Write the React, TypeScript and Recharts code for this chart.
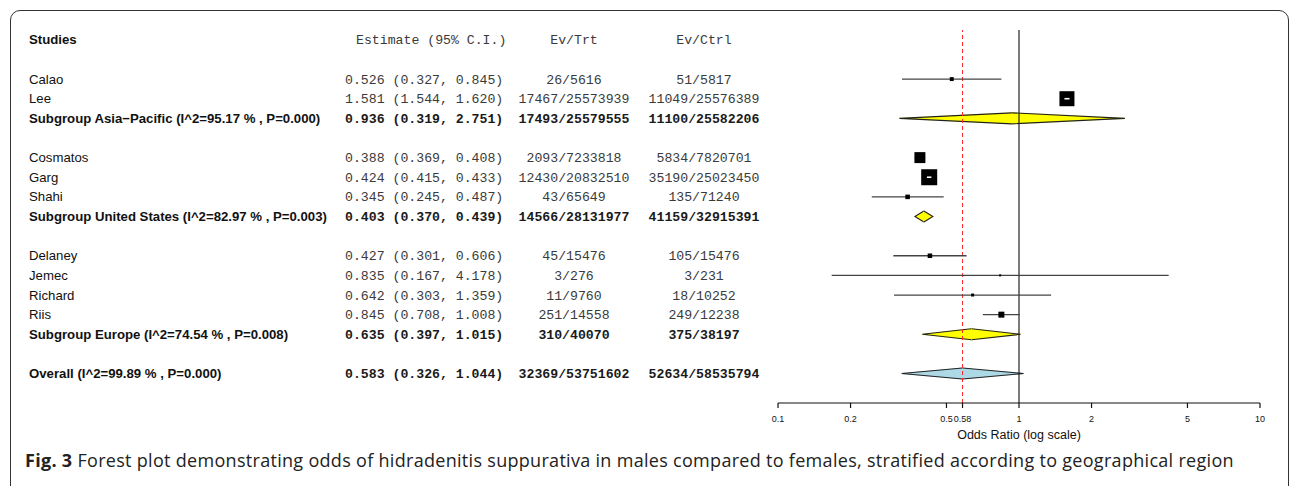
import React from 'react';
import {
  ComposedChart,
  XAxis,
  YAxis,
  Scatter,
  ReferenceLine,
  ReferenceArea,
} from 'recharts';

// individual studies
const studyNames = ['Calao', 'Lee', 'Cosmatos', 'Garg', 'Shahi', 'Delaney', 'Jemec', 'Richard', 'Riis'];
const studyGroup = [0, 0, 1, 1, 1, 2, 2, 2, 2];
const studyEstimates = [0.526, 1.581, 0.388, 0.424, 0.345, 0.427, 0.835, 0.642, 0.845];
const studyLower = [0.327, 1.544, 0.369, 0.415, 0.245, 0.301, 0.167, 0.303, 0.708];
const studyUpper = [0.845, 1.62, 0.408, 0.433, 0.487, 0.606, 4.178, 1.359, 1.008];
const studyEvTrt = ['26/5616', '17467/25573939', '2093/7233818', '12430/20832510', '43/65649', '45/15476', '3/276', '11/9760', '251/14558'];
const studyEvCtrl = ['51/5817', '11049/25576389', '5834/7820701', '35190/25023450', '135/71240', '105/15476', '3/231', '18/10252', '249/12238'];
// relative weight (box area)
const studyWeights = [6, 88, 47, 100, 8, 8, 1.6, 3.5, 14];

// subgroups
const subgroupLabels = [
  'Subgroup Asia\u2212Pacific (I^2=95.17 % , P=0.000)',
  'Subgroup United States (I^2=82.97 % , P=0.003)',
  'Subgroup Europe (I^2=74.54 % , P=0.008)',
];
const subgroupEstimates = [0.936, 0.403, 0.635];
const subgroupLower = [0.319, 0.37, 0.397];
const subgroupUpper = [2.751, 0.439, 1.015];
const subgroupEvTrt = ['17493/25579555', '14566/28131977', '310/40070'];
const subgroupEvCtrl = ['11100/25582206', '41159/32915391', '375/38197'];

// overall
const overallLabel = 'Overall (I^2=99.89 % , P=0.000)';
const overallEstimate = 0.583;
const overallLower = 0.326;
const overallUpper = 1.044;
const overallEvTrt = '32369/53751602';
const overallEvCtrl = '52634/58535794';

const headerLabels = ['Studies', 'Estimate (95% C.I.)', 'Ev/Trt', 'Ev/Ctrl'];
const xTicks = [0.1, 0.2, 0.5, overallEstimate, 1, 2, 5, 10];
const captionBold = 'Fig. 3';
const captionText =
  'Forest plot demonstrating odds of hidradenitis suppurativa in males compared to females, stratified according to geographical region';

// styles
const SANS = '"Liberation Sans", Arial, sans-serif';
const MONO = '"Liberation Mono", "Courier New", monospace';
const whiteDashStudies = ['Lee', 'Garg'];
const boxSize = (w: number) => 16 * Math.sqrt(w / 100);
const DIAMOND_HALF = 0.28;

const fmt = (e: number, l: number, u: number) =>
  `${e.toFixed(3)} (${l.toFixed(3)}, ${u.toFixed(3)})`;

type Row = {
  row: number;
  kind: 'header' | 'study' | 'subgroup' | 'overall';
  label: string;
  est: string;
  evTrt: string;
  evCtrl: string;
};

// build the table rows and the plotted items
const rows: Row[] = [
  { row: 0, kind: 'header', label: headerLabels[0], est: headerLabels[1], evTrt: headerLabels[2], evCtrl: headerLabels[3] },
];
const studyRows: { name: string; x: number; lo: number; hi: number; y: number; w: number }[] = [];
const diamonds: { x: number; lo: number; hi: number; y: number; fill: string }[] = [];

let r = 2;
subgroupLabels.forEach((sub, g) => {
  studyNames.forEach((name, i) => {
    if (studyGroup[i] !== g) return;
    rows.push({
      row: r,
      kind: 'study',
      label: name,
      est: fmt(studyEstimates[i], studyLower[i], studyUpper[i]),
      evTrt: studyEvTrt[i],
      evCtrl: studyEvCtrl[i],
    });
    studyRows.push({ name, x: studyEstimates[i], lo: studyLower[i], hi: studyUpper[i], y: r, w: studyWeights[i] });
    r += 1;
  });
  rows.push({
    row: r,
    kind: 'subgroup',
    label: sub,
    est: fmt(subgroupEstimates[g], subgroupLower[g], subgroupUpper[g]),
    evTrt: subgroupEvTrt[g],
    evCtrl: subgroupEvCtrl[g],
  });
  diamonds.push({ x: subgroupEstimates[g], lo: subgroupLower[g], hi: subgroupUpper[g], y: r, fill: '#ffff00' });
  r += 2;
});
rows.push({
  row: r,
  kind: 'overall',
  label: overallLabel,
  est: fmt(overallEstimate, overallLower, overallUpper),
  evTrt: overallEvTrt,
  evCtrl: overallEvCtrl,
});
diamonds.push({ x: overallEstimate, lo: overallLower, hi: overallUpper, y: r, fill: '#add8e6' });

const rowMap = new Map(rows.map((d) => [d.row, d]));

const RowTick = (props: any) => {
  const { y, payload } = props;
  const d = rowMap.get(payload.value);
  if (!d) return null;
  const bold = d.kind === 'subgroup' || d.kind === 'overall';
  const header = d.kind === 'header';
  const mono = {
    fontFamily: MONO,
    fontSize: 13.2,
    fontWeight: bold ? 700 : 400,
    fill: bold ? '#1a1a1a' : '#3a3a3a',
  };
  return (
    <g>
      <text x={29} y={y} dy="0.35em" fontFamily={SANS} fontSize={13.2} fontWeight={bold || header ? 700 : 400} fill="#111">
        {d.label}
      </text>
      <text x={header ? 356 : 345} y={y} dy="0.35em" {...mono}>
        {d.est}
      </text>
      <text x={574} y={y} dy="0.35em" textAnchor="middle" {...mono}>
        {d.evTrt}
      </text>
      <text x={704} y={y} dy="0.35em" textAnchor="middle" {...mono}>
        {d.evCtrl}
      </text>
    </g>
  );
};

const HalfDiamond = (props: any) => {
  const { x, y, width, height, fill, side } = props;
  if (width == null || height == null) return <g />;
  const cy = y + height / 2;
  const pts =
    side === 'left'
      ? [[x, cy], [x + width, y], [x + width, y + height]]
      : [[x + width, cy], [x, y], [x, y + height]];
  const outline = `M${pts[1][0]},${pts[1][1]} L${pts[0][0]},${pts[0][1]} L${pts[2][0]},${pts[2][1]}`;
  return (
    <g>
      <polygon points={pts.map((p) => p.join(',')).join(' ')} fill={fill} stroke={fill} strokeWidth={0.6} />
      <path d={outline} fill="none" stroke="#222" strokeWidth={1.1} />
    </g>
  );
};

const noDot = () => <g />;

export default function App() {
  const yTicks = rows.map((d) => d.row);
  return (
    <div
      style={{
        position: 'absolute',
        left: 0,
        top: 0,
        width: 1292,
        height: 486,
        overflow: 'hidden',
        background: '#fff',
      }}
    >
      <div
        style={{
          position: 'absolute',
          left: 10,
          top: 10,
          width: 1279,
          height: 520,
          border: '1.5px solid #333',
          borderRadius: 10,
          boxSizing: 'border-box',
        }}
      />
      <div style={{ position: 'absolute', left: 0, top: 0 }}>
        <ComposedChart width={1292} height={486} margin={{ top: 30, right: 32, bottom: 0, left: 0 }}>
          <XAxis
            type="number"
            dataKey="x"
            scale="log"
            domain={[0.1, 10]}
            allowDataOverflow
            ticks={xTicks}
            interval={0}
            tickSize={5}
            tickMargin={8}
            height={83}
            tickFormatter={(v: number) => (v === overallEstimate ? v.toFixed(2) : String(v))}
            tick={{ fontFamily: SANS, fontSize: 9, fill: '#111' }}
            axisLine={{ stroke: '#111', strokeWidth: 1.2 }}
            tickLine={{ stroke: '#111', strokeWidth: 1.2 }}
            label={{
              value: 'Odds Ratio (log scale)',
              position: 'insideTop',
              offset: 27,
              fontFamily: SANS,
              fontSize: 12.5,
              fill: '#111',
            }}
          />
          <YAxis
            type="number"
            dataKey="y"
            domain={[-0.5, 18.5]}
            reversed
            allowDataOverflow
            width={778}
            ticks={yTicks}
            interval={0}
            axisLine={false}
            tickLine={false}
            tick={RowTick}
          />
          {diamonds.map((d, i) => (
            <ReferenceArea
              key={`dl${i}`}
              x1={d.lo}
              x2={d.x}
              y1={d.y - DIAMOND_HALF}
              y2={d.y + DIAMOND_HALF}
              fill={d.fill}
              fillOpacity={1}
              shape={(p: any) => <HalfDiamond {...p} fill={d.fill} side="left" />}
            />
          ))}
          {diamonds.map((d, i) => (
            <ReferenceArea
              key={`dr${i}`}
              x1={d.x}
              x2={d.hi}
              y1={d.y - DIAMOND_HALF}
              y2={d.y + DIAMOND_HALF}
              fill={d.fill}
              fillOpacity={1}
              shape={(p: any) => <HalfDiamond {...p} fill={d.fill} side="right" />}
            />
          ))}
          <ReferenceLine x={1} stroke="#222" strokeWidth={1.2} />
          <ReferenceLine x={overallEstimate} stroke="#ff2a2a" strokeWidth={1} strokeDasharray="4 3" />
          {studyRows.map((s) => (
            <Scatter
              key={`ci-${s.name}`}
              data={[
                { x: s.lo, y: s.y },
                { x: s.hi, y: s.y },
              ]}
              line={{ stroke: '#444', strokeWidth: 1.3 }}
              shape={noDot}
              isAnimationActive={false}
            />
          ))}
          <Scatter
            data={studyRows}
            isAnimationActive={false}
            shape={(p: any) => {
              const sz = boxSize(p.payload.w);
              return <rect x={p.cx - sz / 2} y={p.cy - sz / 2} width={sz} height={sz} fill="#000" />;
            }}
          />
          {studyRows
            .filter((s) => whiteDashStudies.includes(s.name))
            .map((s) => (
              <Scatter
                key={`wd-${s.name}`}
                data={[
                  { x: s.lo, y: s.y },
                  { x: s.hi, y: s.y },
                ]}
                line={{ stroke: '#fff', strokeWidth: 1.6 }}
                shape={noDot}
                isAnimationActive={false}
              />
            ))}
        </ComposedChart>
      </div>
      <div
        style={{
          position: 'absolute',
          left: 25,
          top: 451,
          fontFamily: '"Open Sans", "Noto Sans", sans-serif',
          fontSize: 18,
          letterSpacing: 0.3,
          lineHeight: '18px',
          color: '#222',
          whiteSpace: 'nowrap',
        }}
      >
        <b>{captionBold}</b> {captionText}
      </div>
    </div>
  );
}
